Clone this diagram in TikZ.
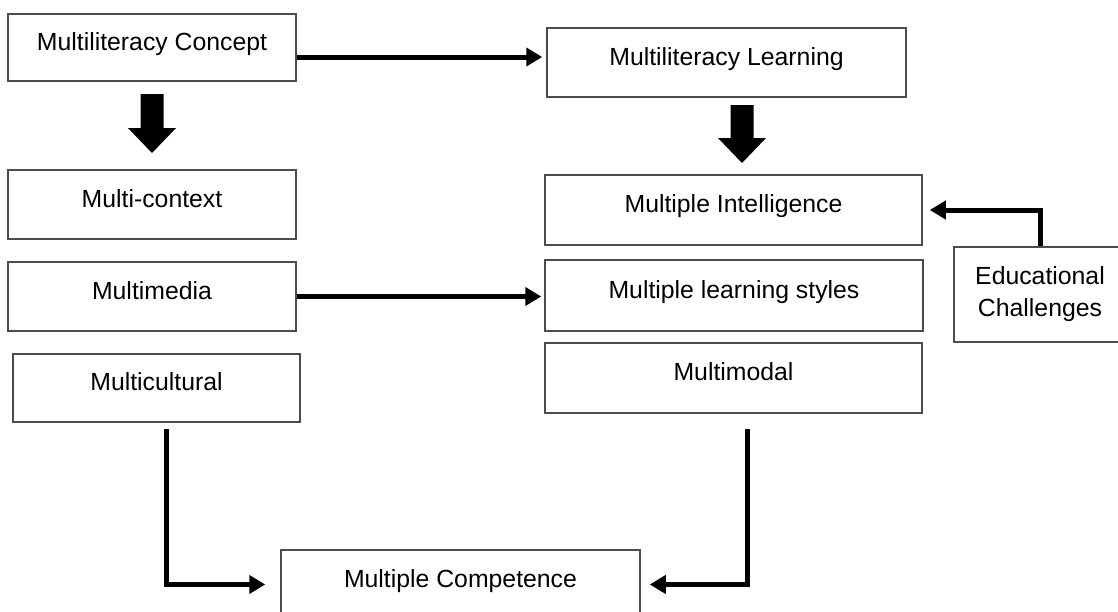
\documentclass[tikz,border=0pt]{standalone}
\usepackage{fontspec}
\setmainfont{Liberation Sans}
\usetikzlibrary{arrows,arrows.meta,positioning}

\begin{document}
\begin{tikzpicture}[x=0.5pt,y=-0.5pt]
\tikzstyle{box}=[rectangle,draw=black!70,line width=0.75pt,
inner sep=0pt,text height=8.9pt,text depth=6.2pt,
font=\fontsize{12.4}{16}\selectfont]
\tikzstyle{conn}=[->,line width=2.5pt,>={Triangle[length=8pt,width=9pt]}]
\useasboundingbox (0,0) rectangle (1118,611);

\node[box,minimum width=144pt,minimum height=33.5pt] at (152,47.5) (concept) {Multiliteracy Concept};
\node[box,minimum width=144pt,minimum height=34.5pt] at (152,204.5) (context) {Multi-context};
\node[box,minimum width=144pt,minimum height=34.5pt] at (152,296.5) (media) {Multimedia};
\node[box,minimum width=143.5pt,minimum height=34pt] at (156.5,388) (cultural) {Multicultural};

\node[box,minimum width=179.5pt,minimum height=34.5pt] at (726.5,62.5) (learning) {Multiliteracy Learning};
\node[box,minimum width=188.5pt,minimum height=35pt] at (733.5,210) (intel) {Multiple Intelligence};
\node[box,minimum width=189pt,minimum height=35.5pt] at (734,295.5) (styles) {Multiple learning styles};
\node[box,minimum width=188.5pt,minimum height=35pt] at (733.5,378) (modal) {Multimodal};

\node[box,minimum width=86pt,minimum height=47.5pt,align=center,
text height=,text depth=] at (1040,294.5) (edu) {Educational\\Challenges};
\node[box,minimum width=179.5pt,minimum height=34.5pt] at (460.5,584.5) (compet) {Multiple Competence};

\coordinate (bc) at (152,94);
\coordinate (bl) at (742,105);
\fill (bc) ++(-11.5,0) -- ++(23,0) -- ++(0,34) -- ++(12.5,0) -- ++(-24,25)
 -- ++(-24,-25) -- ++(12.5,0) -- cycle;
\fill (bl) ++(-11.5,0) -- ++(23,0) -- ++(0,33) -- ++(12.5,0) -- ++(-24,25)
 -- ++(-24,-25) -- ++(12.5,0) -- cycle;

\draw[conn,shorten >=2pt] ([yshift=-4.75pt]concept.east) coordinate (cl) -- (cl -| learning.west);
\draw[conn,shorten >=1.5pt] (media.east) -- (media.east -| styles.west);
\draw[conn,shorten >=3.5pt] (edu.north) |- (intel.east);
\draw[conn,shorten <=3pt,shorten >=7.5pt] ([xshift=5pt]cultural.south) |- (compet.west);
\draw[conn,shorten <=7.5pt,shorten >=4.5pt] ([xshift=6.75pt]modal.south) |- (compet.east);

\end{tikzpicture}
\end{document}
